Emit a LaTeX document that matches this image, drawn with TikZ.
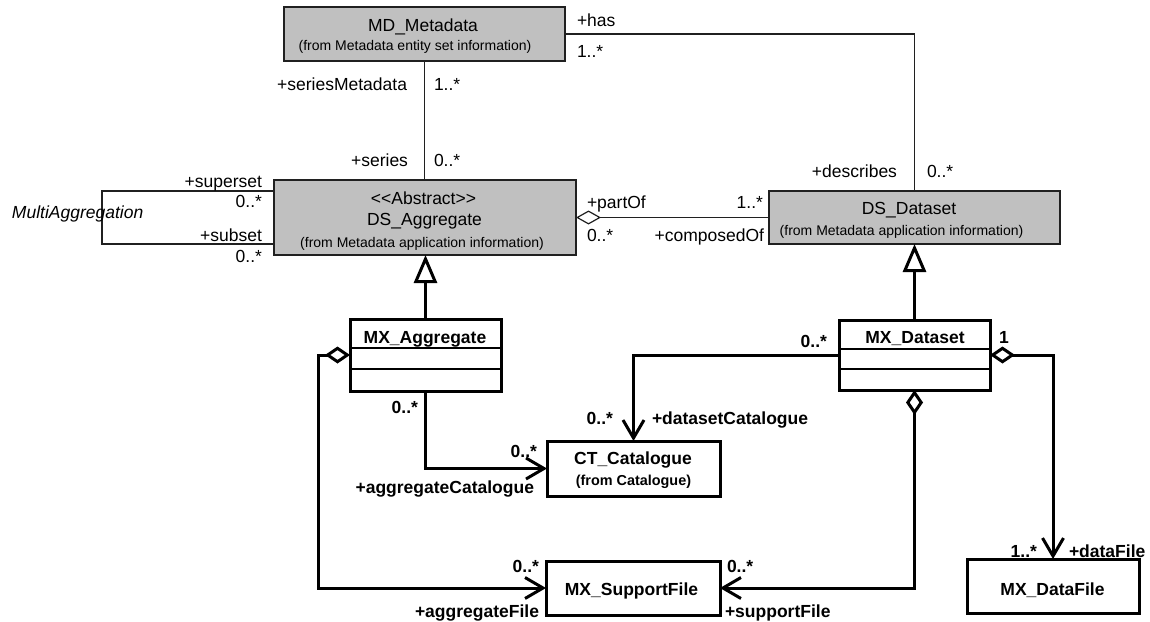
\documentclass[tikz,border=0pt]{standalone}
\usepackage{fontspec}
\setmainfont{Liberation Sans}
\usetikzlibrary{arrows.meta}
\definecolor{classgray}{HTML}{C0C0C0}
\definecolor{thinink}{HTML}{202020}

\begin{document}
\begin{tikzpicture}[x=1pt,y=-1pt,
  every node/.style={inner sep=0pt, outer sep=0pt},
  reg/.style={font=\fontsize{17.5}{20}\selectfont},
  sm/.style={font=\fontsize{14}{16}\selectfont},
  bd/.style={font=\bfseries\fontsize{17.5}{20}\selectfont},
  bdsm/.style={font=\bfseries\fontsize{14.4}{16}\selectfont},
  metabox/.style={draw=thinink, fill=classgray, line width=1.2pt},
  implbox/.style={draw=black, fill=white, line width=3pt},
  thinline/.style={draw=thinink, line width=1.2pt},
  thickline/.style={draw=black, line width=3pt},
  aggthin/.style={{Diamond[open,length=25pt,width=14pt]}-},
  navend/.style={-{Straight Barb[length=18pt,width=21pt]}},
  aggnav/.style={{Diamond[open,length=25pt,width=17pt]}-{Straight Barb[length=18pt,width=21pt]}},
  genend/.style={-{Triangle[open,length=28pt,width=23pt]}},
]
\useasboundingbox (0,0) rectangle (1150,621);

% ---------- metadata classes (grey) ----------
\node[metabox, minimum width=281pt, minimum height=54pt] (md) at (424.5,34) {};
\node[reg, anchor=base] (mdname) at (423,31) {MD\_Metadata};
\node[sm, anchor=base] (mdfrom) at (415,50) {(from Metadata entity set information)};

\node[metabox, minimum width=302pt, minimum height=75pt] (dsa) at (425,217.5) {};
\node[reg, anchor=base] (dsastereo) at (423.5,204) {<\kern0pt<Abstract>\kern0pt>};
\node[reg, anchor=base] (dsaname) at (424.5,225) {DS\_Aggregate};
\node[sm, anchor=base] (dsafrom) at (422,247) {(from Metadata application information)};

\node[metabox, minimum width=291pt, minimum height=53pt] (dsd) at (914.5,217.5) {};
\node[reg, anchor=base] (dsdname) at (909,214) {DS\_Dataset};
\node[sm, anchor=base] (dsdfrom) at (901.5,235) {(from Metadata application information)};

% ---------- implementation classes ----------
\node[implbox, minimum width=151pt, minimum height=72pt] (mxa) at (425.5,355) {};
\node[bd, anchor=base] (mxaname) at (425,343) {MX\_Aggregate};
\draw[line width=2.2pt] (mxa.west |- 0,348) -- (mxa.east |- 0,348);
\draw[line width=2.2pt] (mxa.west |- 0,369) -- (mxa.east |- 0,369);

\node[implbox, minimum width=151pt, minimum height=70pt] (mxd) at (914.5,355) {};
\node[bd, anchor=base] (mxdname) at (915,343) {MX\_Dataset};
\draw[line width=2.2pt] (mxd.west |- 0,349) -- (mxd.east |- 0,349);
\draw[line width=2.2pt] (mxd.west |- 0,369) -- (mxd.east |- 0,369);

\node[implbox, minimum width=173pt, minimum height=55pt] (ct) at (633.5,468.5) {};
\node[bd, anchor=base] (ctname) at (633,464) {CT\_Catalogue};
\node[bdsm, anchor=base] (ctfrom) at (633.5,485) {(from Catalogue)};

\node[implbox, minimum width=174pt, minimum height=54pt] (sf) at (633,588) {};
\node[bd, anchor=base] (sfname) at (631.5,595) {MX\_SupportFile};

\node[implbox, minimum width=172pt, minimum height=54pt] (df) at (1053,586) {};
\node[bd, anchor=base] (dfname) at (1052.5,595) {MX\_DataFile};

% ---------- upper associations ----------
\draw[thinline] (md.south) -- (md.south |- dsa.north);
\node[reg, anchor=base east] (rolesm) at (407,90) {+seriesMetadata};
\node[reg, anchor=base west] (multsm) at (434,90) {1..*};
\node[reg, anchor=base east] (roleser) at (408,166) {+series};
\node[reg, anchor=base west] (multser) at (434,166) {0..*};

\draw[thinline] (md.east) -| (dsd.north);
\node[reg, anchor=base west] (rolehas) at (577,26) {+has};
\node[reg, anchor=base west] (multhas) at (577,57) {1..*};
\node[reg, anchor=base east] (roledesc) at (897,177) {+describes};
\node[reg, anchor=base west] (multdesc) at (927,177) {0..*};

\draw[thinline, aggthin] (dsa.east) -- (dsd.west);
\node[reg, anchor=base west] (rolepart) at (587,208) {+partOf};
\node[reg, anchor=base west] (multpart) at (587,241) {0..*};
\node[reg, anchor=base east] (multcomp) at (763,208) {1..*};
\node[reg, anchor=base east] (rolecomp) at (764,241) {+composedOf};

% self association of DS_Aggregate
\coordinate (loopl) at (102,217.5);
\draw[thinline] ([yshift=26.5pt]dsa.west) -| (loopl) |- ([yshift=-26.5pt]dsa.west);
\node[font=\itshape\fontsize{17.5}{20}\selectfont, anchor=base west] (loopname) at (12,218) {MultiAggregation};
\node[reg, anchor=base east] (rolesup) at (262,187) {+superset};
\node[reg, anchor=base east] (multsup) at (262,207) {0..*};
\node[reg, anchor=base east] (rolesub) at (262,241) {+subset};
\node[reg, anchor=base east] (multsub) at (262,262) {0..*};

% ---------- generalizations ----------
\draw[thickline, genend] (mxa.north) -- (mxa.north |- dsa.south);
\draw[thickline, genend] (mxd.north) -- (mxd.north |- dsd.south);

% ---------- lower associations ----------
\draw[thickline, navend] (mxa.south) |- (ct.west);
\node[bd, anchor=base east] (multac1) at (418,413) {0..*};
\node[bd, anchor=base east] (multac2) at (537,457) {0..*};
\node[bd, anchor=base east] (roleac) at (534,493) {+aggregateCatalogue};

\draw[thickline, navend] (mxd.west) -| (ct.north);
\node[bd, anchor=base east] (multdc1) at (827,347) {0..*};
\node[bd, anchor=base east] (multdc2) at (613,424) {0..*};
\node[bd, anchor=base west] (roledc) at (652,424) {+datasetCatalogue};

\coordinate (aggl) at (318,470);
\draw[thickline, aggnav] (mxa.west) -| (aggl) |- (sf.west);
\node[bd, anchor=base east] (multaf) at (539,572) {0..*};
\node[bd, anchor=base east] (roleaf) at (539,617) {+aggregateFile};

\draw[thickline, aggnav] (mxd.south) |- (sf.east);
\node[bd, anchor=base west] (multsfile) at (727,572) {0..*};
\node[bd, anchor=base west] (rolesfile) at (725,617) {+supportFile};

\draw[thickline, aggnav] (mxd.east) -| (df.north);
\node[bd, anchor=base west] (multone) at (999,343) {1};
\node[bd, anchor=base east] (multdf) at (1037,557) {1..*};
\node[bd, anchor=base west] (roledf) at (1069,557) {+dataFile};
\end{tikzpicture}
\end{document}
